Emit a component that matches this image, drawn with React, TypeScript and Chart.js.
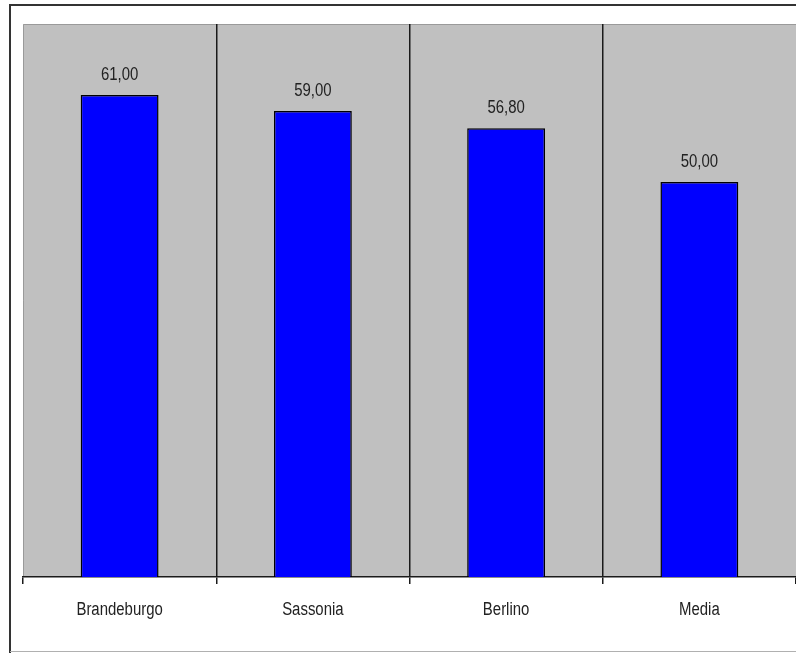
import React, { useEffect, useRef } from "react";
import { Chart, registerables } from "chart.js";

Chart.register(...registerables);

const categories = ["Brandeburgo", "Sassonia", "Berlino", "Media"];
const values = [61.0, 59.0, 56.8, 50.0];
const yMin = 0;
const yMax = 70;

const fontFamily = "'Liberation Sans', Arial, sans-serif";
const squeeze = 0.83;

const fmt = (v: number) => v.toFixed(2).replace(".", ",");

export default function App() {
  const ref = useRef<HTMLCanvasElement>(null);

  useEffect(() => {
    document.body.style.margin = "0";
    const canvas = ref.current;
    if (!canvas) return;

    const drawSqueezed = (ctx: any, text: string, x: number, y: number) => {
      ctx.save();
      ctx.translate(x, y);
      ctx.scale(squeeze, 1);
      ctx.fillText(text, 0, 0);
      ctx.restore();
    };

    const framePlugin = {
      id: "framePlugin",
      beforeDraw(chart: any) {
        const { ctx, chartArea } = chart;
        ctx.save();
        ctx.fillStyle = "#ffffff";
        ctx.fillRect(0, 0, chart.width, chart.height);
        // outer frame
        ctx.strokeStyle = "#333333";
        ctx.lineWidth = 2;
        ctx.beginPath();
        ctx.moveTo(10, 653);
        ctx.lineTo(10, 5);
        ctx.lineTo(chart.width, 5);
        ctx.stroke();
        ctx.strokeStyle = "#b0b0b0";
        ctx.lineWidth = 1;
        ctx.beginPath();
        ctx.moveTo(10, 651.5);
        ctx.lineTo(chart.width, 651.5);
        ctx.stroke();
        // plot background
        ctx.fillStyle = "#c0c0c0";
        ctx.fillRect(
          chartArea.left,
          chartArea.top,
          chartArea.right - chartArea.left,
          chartArea.bottom - chartArea.top
        );
        ctx.strokeStyle = "#9a9a9a";
        ctx.lineWidth = 1;
        ctx.beginPath();
        ctx.moveTo(chartArea.left + 0.5, chartArea.bottom);
        ctx.lineTo(chartArea.left + 0.5, chartArea.top + 0.5);
        ctx.lineTo(chartArea.right, chartArea.top + 0.5);
        ctx.stroke();
        ctx.restore();
      },
      afterDatasetsDraw(chart: any) {
        const { ctx } = chart;
        const meta = chart.getDatasetMeta(0);
        ctx.save();
        ctx.fillStyle = "#222222";
        ctx.font = `18px ${fontFamily}`;
        ctx.textAlign = "center";
        ctx.textBaseline = "middle";
        meta.data.forEach((bar: any, i: number) => {
          drawSqueezed(ctx, fmt(values[i]), bar.x, bar.y - 20);
        });
        ctx.restore();
      },
      afterDraw(chart: any) {
        const { ctx } = chart;
        const xs = chart.scales.x;
        ctx.save();
        ctx.fillStyle = "#222222";
        ctx.font = `18px ${fontFamily}`;
        ctx.textAlign = "center";
        ctx.textBaseline = "middle";
        categories.forEach((label, i) => {
          drawSqueezed(ctx, label, xs.getPixelForTick(i), xs.top + 33);
        });
        ctx.restore();
      },
    };

    const chart = new Chart(canvas, {
      type: "bar",
      data: {
        labels: categories,
        datasets: [
          {
            data: values,
            backgroundColor: "#0000ff",
            borderColor: "#000000",
            borderWidth: 1.5,
            categoryPercentage: 1,
            barPercentage: 0.403,
          },
        ],
      },
      options: {
        responsive: false,
        animation: false,
        devicePixelRatio: 1,
        layout: { padding: { left: 23, top: 24, right: 0, bottom: 0 } },
        plugins: {
          legend: { display: false },
          tooltip: { enabled: false },
        },
        scales: {
          y: {
            display: false,
            min: yMin,
            max: yMax,
          },
          x: {
            afterFit(scale: any) {
              scale.height = 76;
            },
            grid: {
              offset: true,
              drawOnChartArea: true,
              drawTicks: true,
              tickLength: 7,
              lineWidth: 1.5,
              color: (c: any) =>
                c.index === 0 || c.index === undefined || c.index >= categories.length
                  ? "rgba(0,0,0,0)"
                  : "#1a1a1a",
              tickColor: "#1a1a1a",
            },
            border: { display: true, color: "#1a1a1a", width: 1.5 },
            ticks: {
              display: false,
            },
          },
        },
      },
      plugins: [framePlugin],
    });

    return () => chart.destroy();
  }, []);

  return (
    <div style={{ width: 796, height: 653, position: "relative", overflow: "hidden" }}>
      <canvas ref={ref} width={796} height={653} style={{ display: "block" }} />
    </div>
  );
}
